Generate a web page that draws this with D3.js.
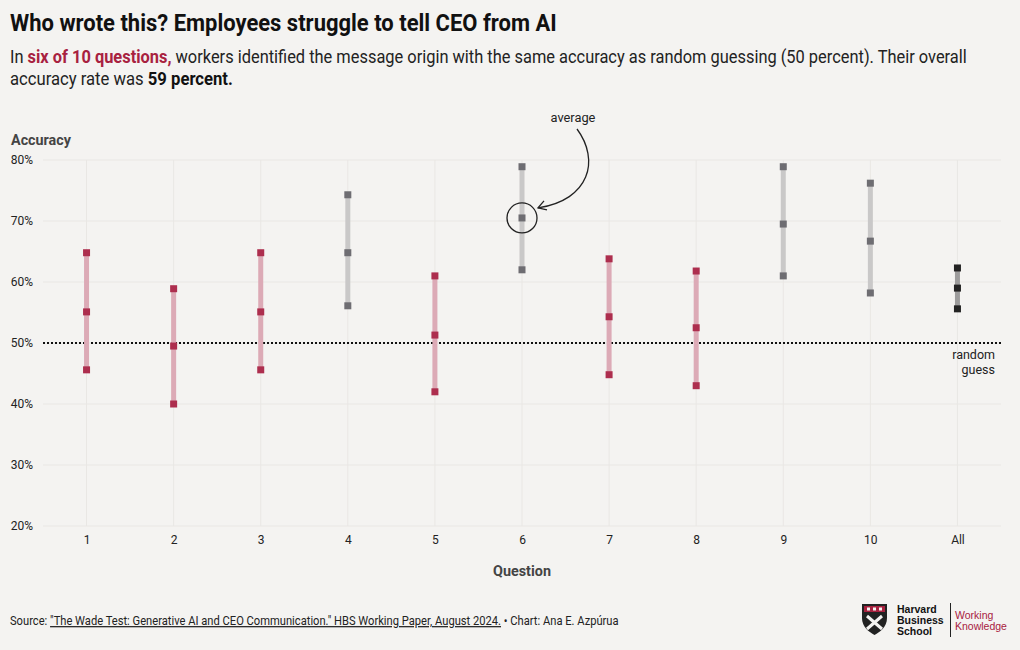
<!DOCTYPE html>
<html><head><meta charset="utf-8">
<script src="https://cdn.jsdelivr.net/npm/d3@7"></script>
<style>
body{margin:0;background:#f4f3f1;}
svg{display:block;}
</style></head>
<body><svg id="c" width="1020" height="650"></svg>
<script>
const categories = ["1","2","3","4","5","6","7","8","9","10","All"];
const lowValues  = [45.6, 40.0, 45.6, 56.1, 42.0, 62.0, 44.8, 43.0, 61.0, 58.2, 55.6];
const avgValues  = [55.1, 49.5, 55.1, 64.8, 51.3, 70.5, 54.3, 52.5, 69.5, 66.7, 59.0];
const highValues = [64.8, 58.9, 64.8, 74.3, 61.0, 78.9, 63.8, 61.8, 78.9, 76.2, 62.3];
const groups     = ["chance","chance","chance","sig","chance","sig","chance","chance","sig","sig","all"];
const yTicks = [20,30,40,50,60,70,80];

const font = "Roboto,'Noto Sans',sans-serif";
const svg = d3.select("#c");
svg.append("rect").attr("width",1020).attr("height",650).attr("fill","#f4f3f1");

// horizontally squeeze a text to a target width (to mimic a condensed face)
function fit(sel, x0, y0, target, anchor){
  const w = sel.node().getComputedTextLength();
  const k = target / w;
  let tx = x0;
  if(anchor==="middle") tx = x0 - target/2;
  if(anchor==="end") tx = x0 - target;
  sel.attr("x",0).attr("y",0).attr("text-anchor","start")
     .attr("transform",`translate(${tx},${y0}) scale(${k},1)`);
  sel.selectAll("tspan[data-x]").each(function(){});
  return sel;
}

const x = d3.scalePoint().domain(categories).range([43,1001]).padding(0.5);
const y = d3.scaleLinear().domain([20,80]).range([526,160]);

const colors = {
  chance:{bar:"#dcaab6", pt:"#ad2e4e"},
  sig:{bar:"#c9c8c8", pt:"#6e6d72"},
  all:{bar:"#9d9c9c", pt:"#232323"}
};

// title
const title = svg.append("text").attr("font-family",font).attr("font-weight","bold")
  .attr("font-size",24).attr("fill","#111").text("Who wrote this? Employees struggle to tell CEO from AI");
fit(title,10,31,547);
const sub1 = svg.append("text").attr("font-family",font).attr("font-size",18).attr("fill","#222");
sub1.append("tspan").text("In ");
sub1.append("tspan").attr("font-weight","bold").attr("fill","#a8213f").text("six of 10 questions,");
sub1.append("tspan").text(" workers identified the message origin with the same accuracy as random guessing (50 percent). Their overall");
fit(sub1,10,63,957);
const sub2 = svg.append("text").attr("font-family",font).attr("font-size",18).attr("fill","#222");
sub2.append("tspan").text("accuracy rate was ");
sub2.append("tspan").attr("font-weight","bold").attr("fill","#111").text("59 percent.");
fit(sub2,10,85,223);

// grid
const g = svg.append("g");
g.selectAll(".hg").data(yTicks).join("line").attr("x1",43).attr("x2",1001)
  .attr("y1",d=>y(d)).attr("y2",d=>y(d)).attr("stroke","#e9e7e4").attr("stroke-width",1);
g.selectAll(".vg").data(categories).join("line").attr("x1",d=>x(d)).attr("x2",d=>x(d))
  .attr("y1",160).attr("y2",526).attr("stroke","#e9e7e4").attr("stroke-width",1);

// y axis
const yAxis = d3.axisLeft(y).tickValues(yTicks).tickFormat(d=>d+"%").tickSize(0).tickPadding(0);
const ya = svg.append("g").attr("transform","translate(33,0)").call(yAxis);
ya.select(".domain").remove();
ya.selectAll("text").attr("font-family",font).attr("font-size",12).attr("fill","#222").attr("dy","0.32em");

// x axis
const xAxis = d3.axisBottom(x).tickSize(0).tickPadding(0);
const xa = svg.append("g").attr("transform","translate(0,535)").call(xAxis);
xa.select(".domain").remove();
xa.selectAll("text").attr("font-family",font).attr("font-size",12).attr("fill","#222").attr("dy","0.71em");

const accL = svg.append("text").attr("font-family",font).attr("font-weight","bold")
  .attr("font-size",14.5).attr("fill","#444").text("Accuracy");
fit(accL,11,145,60);
const qL = svg.append("text").attr("font-family",font).attr("font-weight","bold")
  .attr("font-size",14.5).attr("fill","#444").text("Question");
fit(qL,522,576,58,"middle");

// random guess line
svg.append("line").attr("x1",43).attr("x2",1001).attr("y1",y(50)).attr("y2",y(50))
  .attr("stroke","#111").attr("stroke-width",2).attr("stroke-dasharray","2,2");
svg.append("text").attr("x",995).attr("y",359).attr("text-anchor","end").attr("font-family",font)
  .attr("font-size",12.5).attr("fill","#222").text("random");
svg.append("text").attr("x",995).attr("y",374).attr("text-anchor","end").attr("font-family",font)
  .attr("font-size",12.5).attr("fill","#222").text("guess");

// bars
const data = categories.map((c,i)=>({c,lo:lowValues[i],avg:avgValues[i],hi:highValues[i],g:groups[i]}));
svg.selectAll(".bar").data(data).join("rect")
  .attr("x",d=>x(d.c)-2.5).attr("width",5)
  .attr("y",d=>y(d.hi)).attr("height",d=>y(d.lo)-y(d.hi))
  .attr("fill",d=>colors[d.g].bar);
const pts = [];
data.forEach(d=>{["lo","avg","hi"].forEach(k=>pts.push({c:d.c,v:d[k],g:d.g}));});
svg.selectAll(".pt").data(pts).join("rect")
  .attr("x",d=>x(d.c)-3.5).attr("y",d=>y(d.v)-3.5).attr("width",7).attr("height",7)
  .attr("fill",d=>colors[d.g].pt);

// annotation
const ax = x("6"), ay = y(avgValues[5]);
svg.append("circle").attr("cx",ax).attr("cy",ay).attr("r",15).attr("fill","none").attr("stroke","#222").attr("stroke-width",1.3);
const avL = svg.append("text").attr("font-family",font).attr("font-size",13).attr("fill","#222").text("average");
fit(avL,573,122,45,"middle");
svg.append("path").attr("d",`M577,129 C600,160 590,200 ${ax+16},${ay-10}`)
  .attr("fill","none").attr("stroke","#222").attr("stroke-width",1.3);
svg.append("path").attr("d",`M${ax+22},${ay-17} L${ax+16},${ay-10} L${ax+25},${ay-8}`)
  .attr("fill","none").attr("stroke","#222").attr("stroke-width",1.3);

// source
const src = svg.append("text").attr("font-family",font).attr("font-size",12.5).attr("fill","#222");
src.append("tspan").text("Source: ");
src.append("tspan").attr("text-decoration","underline").text("\"The Wade Test: Generative AI and CEO Communication.\" HBS Working Paper, August 2024.");
src.append("tspan").text(" • Chart: Ana E. Azpúrua");
fit(src,10,625,609);

// logo
const lg = svg.append("g").attr("transform","translate(862,604)");
lg.append("path").attr("d","M0,0 H25 V14 C25,23 18,28 12.5,31 C7,28 0,23 0,14 Z").attr("fill","#222");
lg.append("rect").attr("x",2).attr("y",2).attr("width",21).attr("height",6).attr("fill","#a8213f");
lg.selectAll(".sq").data([5,11,17]).join("rect").attr("x",d=>d).attr("y",3.5).attr("width",3).attr("height",3).attr("fill","#f4f3f1");
lg.append("path").attr("d","M5,12 L20,25 M20,12 L5,25").attr("stroke","#f4f3f1").attr("stroke-width",3);
const ht = svg.append("text").attr("font-family","'Liberation Sans',Arial,sans-serif").attr("font-weight","bold").attr("font-size",10.5).attr("fill","#111");
ht.append("tspan").attr("x",897).attr("y",613).text("Harvard");
ht.append("tspan").attr("x",897).attr("y",624).text("Business");
ht.append("tspan").attr("x",897).attr("y",635).text("School");
svg.append("line").attr("x1",950.5).attr("x2",950.5).attr("y1",603).attr("y2",637).attr("stroke","#222").attr("stroke-width",1);
const wk = svg.append("text").attr("font-family","'Liberation Sans',Arial,sans-serif").attr("font-size",10.5).attr("fill","#a8213f");
wk.append("tspan").attr("x",955).attr("y",619).text("Working");
wk.append("tspan").attr("x",955).attr("y",630).text("Knowledge");
</script></body></html>
